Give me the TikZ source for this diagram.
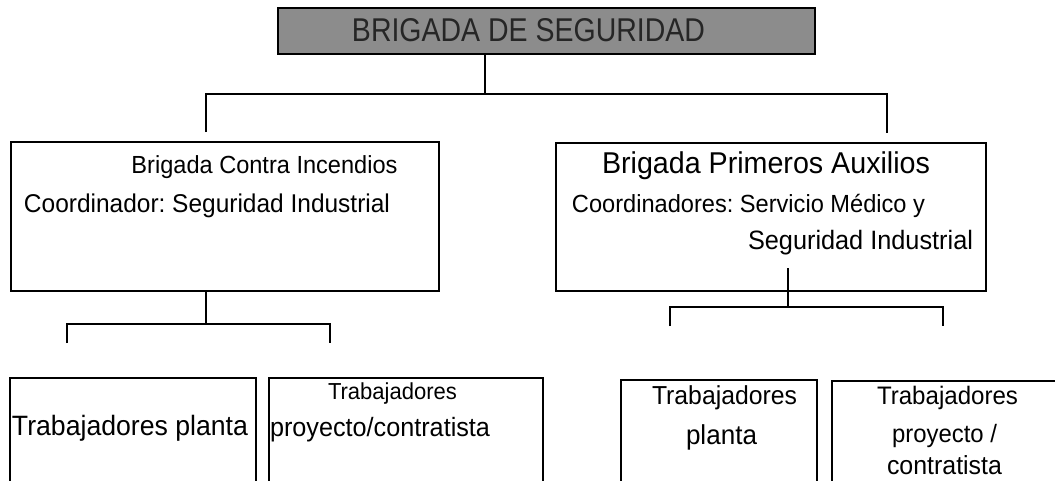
\documentclass[tikz,border=0pt]{standalone}
\usepackage{fontspec}
\setmainfont{Liberation Sans}
\usepackage{graphicx}
\frenchspacing
\begin{document}
\begin{tikzpicture}[x=1pt,y=-1pt,
  box/.style={draw=black,line width=1.5pt,rectangle,inner sep=0pt},
  lbl/.style={inner sep=0pt,text=black},
  conn/.style={line width=1.5pt,draw=black}]
\newcommand{\fitw}[2]{\scalebox{1}[1.05]{\resizebox{#1pt}{!}{\fontsize{20}{24}\selectfont\frenchspacing #2}}}
\useasboundingbox (0,0) rectangle (1055,480);
\clip (0,0) rectangle (1055,480);
% boxes
\node[box,fill=black!45,minimum width=537pt,minimum height=46pt] (title) at (546.5,31) {};
\node[lbl,text=black!85] (titletext) at (528.5,30) {\resizebox{353pt}{23pt}{\fontsize{20}{24}\selectfont BRIGADA DE SEGURIDAD}};
\node[box,minimum width=428pt,minimum height=149pt] (fire) at (225,216.5) {};
\node[box,minimum width=430pt,minimum height=148pt] (aid) at (771,217) {};
\node[box,minimum width=246pt,minimum height=160pt] (fp) at (133,458) {};
\node[box,minimum width=274pt,minimum height=160pt] (fc) at (406,458) {};
\node[box,minimum width=196pt,minimum height=160pt] (ap) at (719,460) {};
\node[box,minimum width=240pt,minimum height=160pt] (ac) at (952,461) {};
% texts
\node[lbl] (t1) at (264.5,167) {\fitw{266}{Brigada Contra Incendios}};
\node[lbl] (t2) at (207,206) {\fitw{366}{Coordinador: Seguridad Industrial}};
\node[lbl] (t3) at (766,166) {\fitw{328}{Brigada Primeros Auxilios}};
\node[lbl] (t4) at (748.5,206) {\fitw{353}{Coordinadores: Servicio Médico y}};
\node[lbl] (t5) at (860.5,243) {\fitw{225}{Seguridad Industrial}};
\node[lbl] (b1) at (130,428) {\fitw{236}{Trabajadores planta}};
\node[lbl] (b2a) at (392.5,394) {\fitw{129}{Trabajadores}};
\node[lbl] (b2b) at (380,430) {\fitw{220}{proyecto/contratista}};
\node[lbl] (b3a) at (724.5,398) {\fitw{145}{Trabajadores}};
\node[lbl] (b3b) at (721.5,437) {\fitw{71}{planta}};
\node[lbl] (b4a) at (947.5,398) {\fitw{141}{Trabajadores}};
\node[lbl] (b4b) at (944.5,436) {\fitw{105}{proyecto /}};
\node[lbl] (b4c) at (944.5,465) {\fitw{115}{contratista}};
% junction coordinates
\coordinate (j0) at (485,94);
\coordinate (dl) at (206,132);
\coordinate (dr) at (887,133);
\coordinate (j1) at (206,324);
\coordinate (d1) at (67,343);
\coordinate (d2) at (330,343);
\coordinate (s2) at (788,268);
\coordinate (j2) at (788,307);
\coordinate (d3) at (670,326);
\coordinate (d4) at (943,326);
% connectors
\draw[conn] (title.south -| j0) -- (j0);
\draw[conn] (dl) |- (j0) -| (dr);
\draw[conn] (fire.south -| j1) -- (j1);
\draw[conn] (d1) |- (j1) -| (d2);
\draw[conn] (s2) -- (j2);
\draw[conn] (d3) |- (j2) -| (d4);
\end{tikzpicture}
\end{document}
